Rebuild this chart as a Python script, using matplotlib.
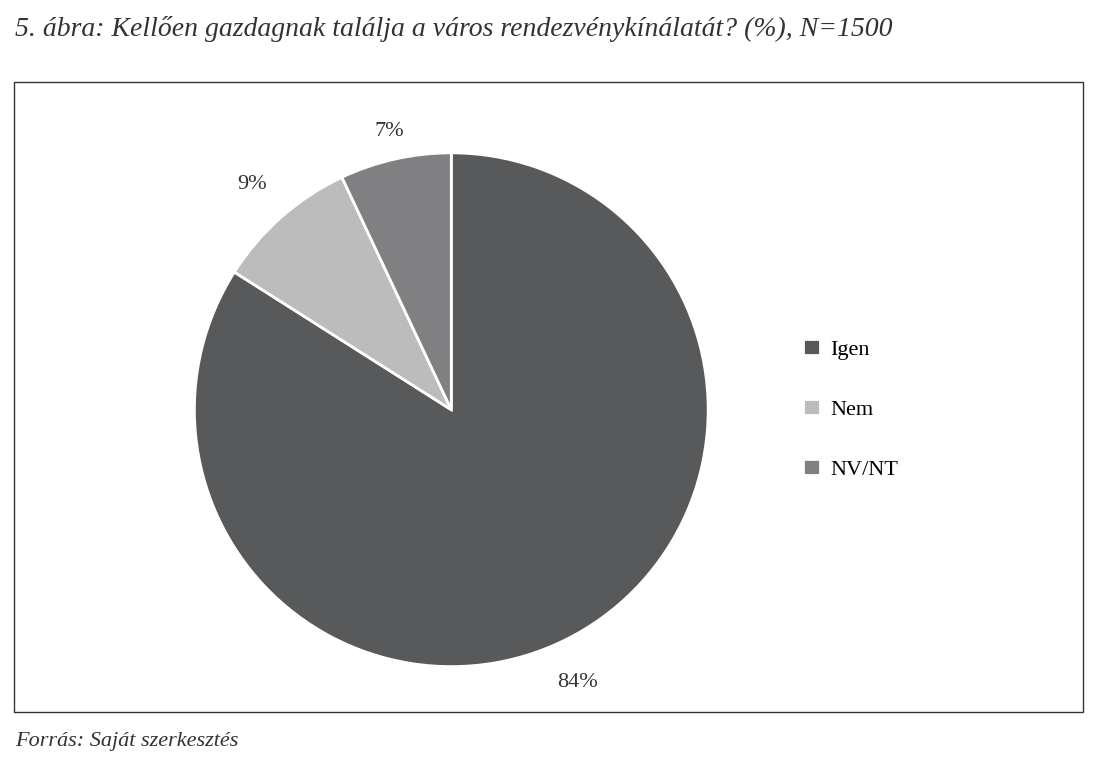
import numpy as np
import matplotlib.pyplot as plt
from matplotlib.patches import Rectangle

plt.rcParams['font.family'] = ['Liberation Serif', 'DejaVu Serif']

labels = ['Igen', 'Nem', 'NV/NT']
values = [84, 9, 7]
colors = ['#58595b', '#bcbcbc', '#808083']

fig = plt.figure(figsize=(10.98, 7.68), dpi=100)
fig.patch.set_facecolor('white')

# frame around chart
fig.patches.append(Rectangle((0.0128, 0.073), 0.9736, 0.82, transform=fig.transFigure,
                             fill=False, edgecolor='#333333', linewidth=1.0))

ax = fig.add_axes([0.177, 0.132, 0.468, 0.669])
wedges, texts = ax.pie(values, colors=colors, startangle=90, counterclock=False,
                       wedgeprops=dict(edgecolor='white', linewidth=2))
dists = [1.17, 1.17, 1.11]
shifts = [4, 0, 0]
for w, v, d, s in zip(wedges, values, dists, shifts):
    ang = np.deg2rad((w.theta1 + w.theta2) / 2 - s)
    ax.text(d * np.cos(ang), d * np.sin(ang), f'{v}%', ha='center', va='center',
            fontsize=16, color='#333333')
ax.set_aspect('equal')
ax.set_xlim(-1, 1)
ax.set_ylim(-1, 1)

fig.legend(wedges, labels, loc='center left', bbox_to_anchor=(0.713, 0.467), frameon=False,
           fontsize=16, handlelength=0.75, handleheight=0.75, labelspacing=1.75, handletextpad=0.5)

fig.text(0.014, 0.962, '5. ábra: Kellően gazdagnak találja a város rendezvénykínálatát? (%), N=1500',
         fontsize=20, style='italic', color='#333333', va='center')
fig.text(0.014, 0.035, 'Forrás: Saját szerkesztés', fontsize=16, style='italic', color='#333333',
         va='center')

fig.savefig('out.png', dpi=100)
